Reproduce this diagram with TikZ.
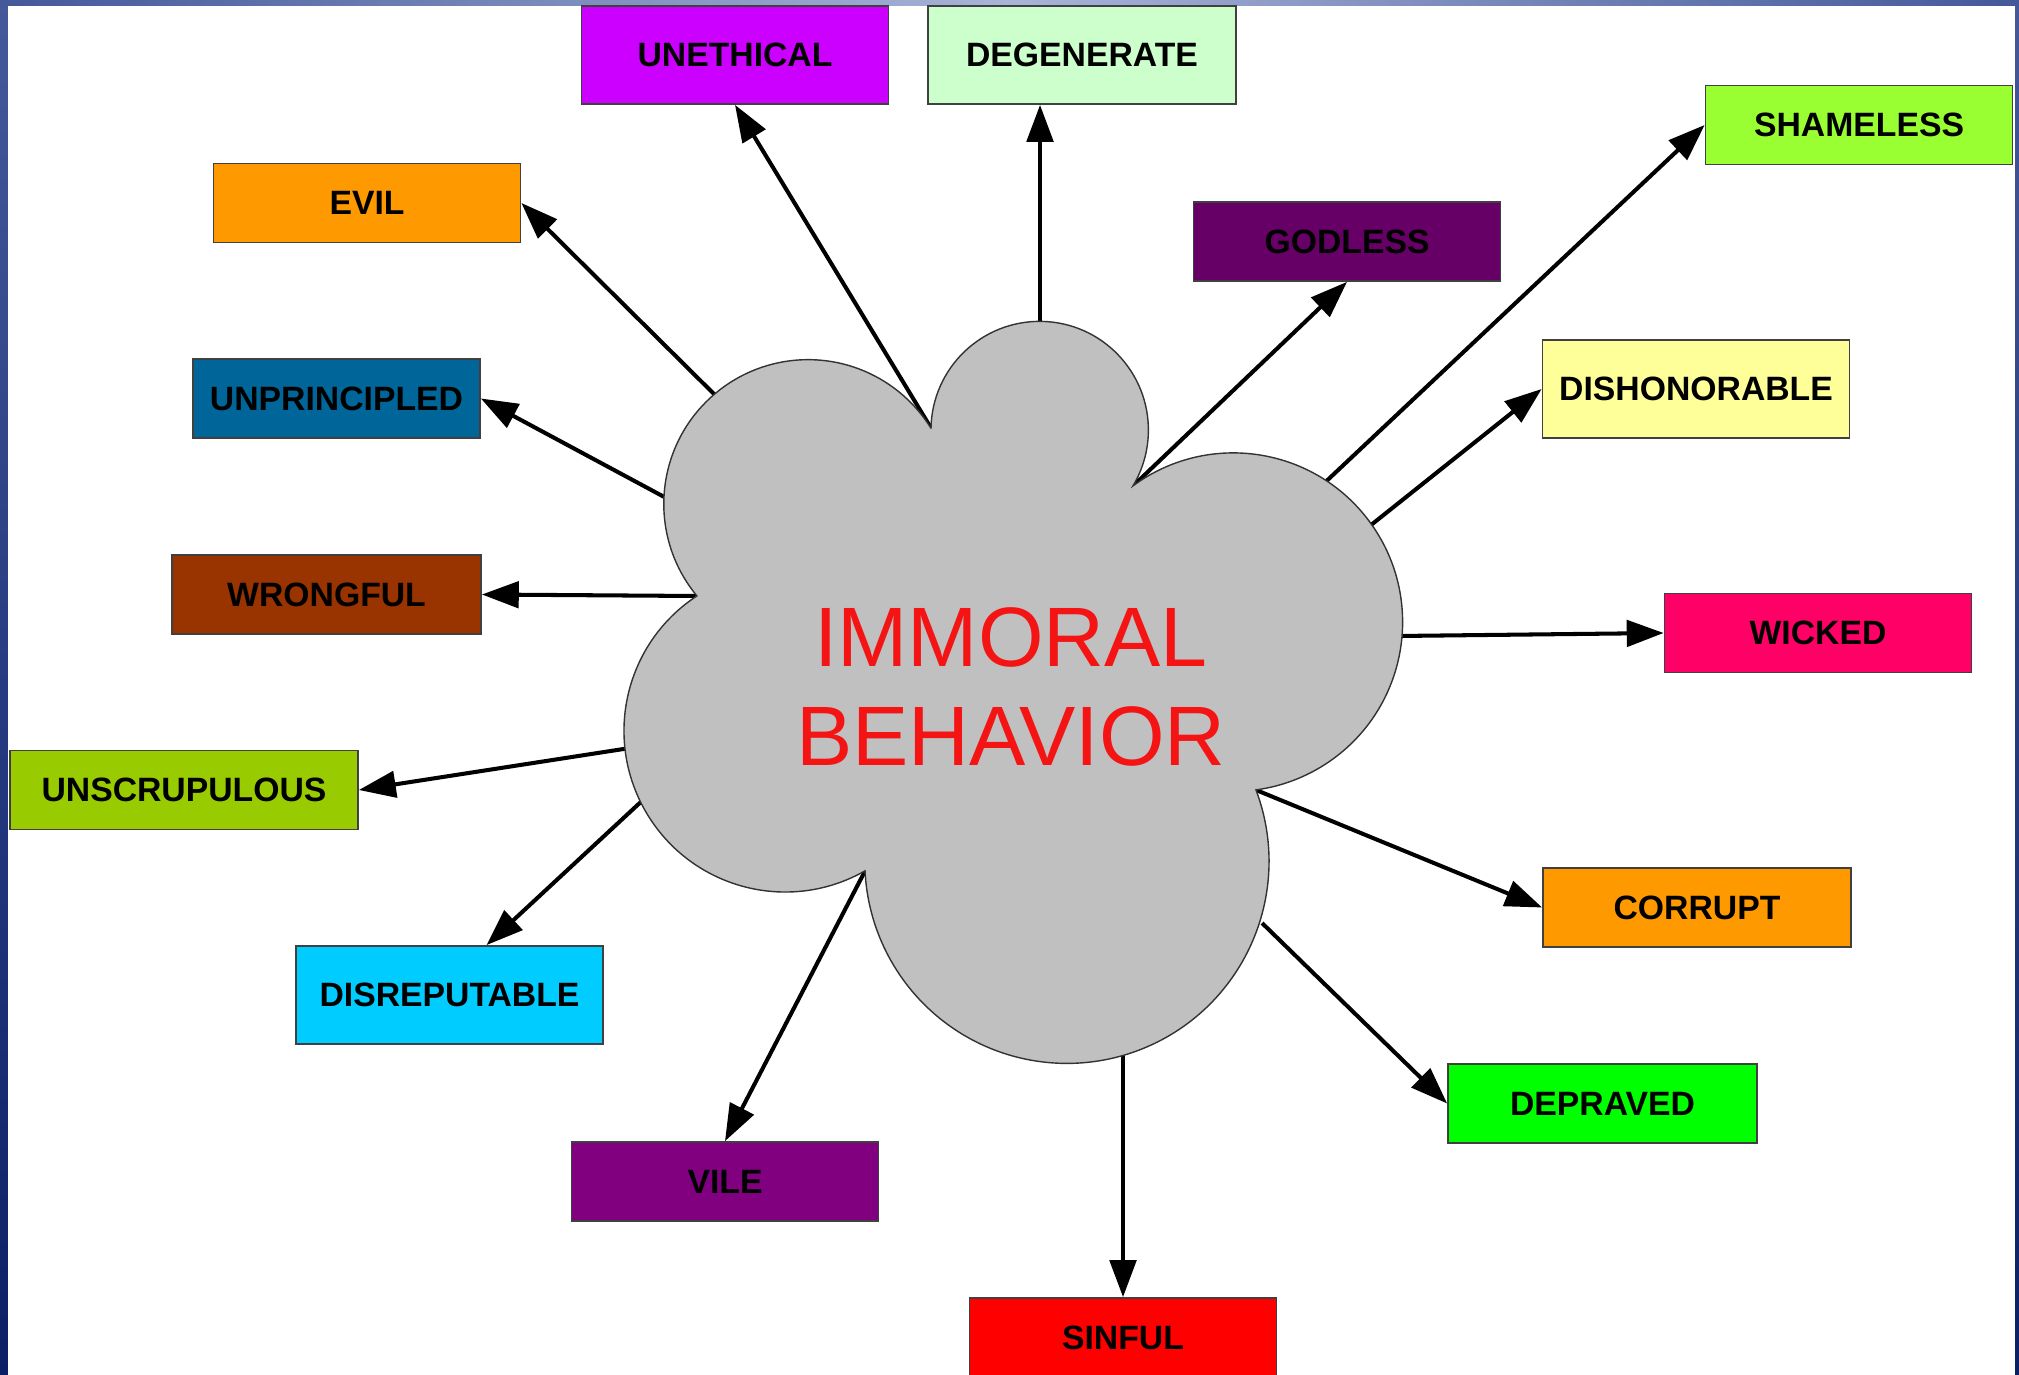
\documentclass[tikz,border=0pt]{standalone}
\usepackage{fontspec}
\setmainfont{Liberation Sans}
\usepackage{xcolor}
\usepackage{tikz}
\usetikzlibrary{arrows.meta, positioning, calc}

\definecolor{frameTop}{HTML}{44589A}
\definecolor{frameBot}{HTML}{0A1F66}
\definecolor{frameLight}{HTML}{A8B4D8}
\definecolor{cloudGray}{HTML}{C0C0C0}
\definecolor{moralRed}{HTML}{F41414}
\definecolor{cUnethical}{HTML}{CC00FF}
\definecolor{cDegenerate}{HTML}{CCFFCC}
\definecolor{cEvil}{HTML}{FF9900}
\definecolor{cGodless}{HTML}{660066}
\definecolor{cShameless}{HTML}{99FF33}
\definecolor{cUnprincipled}{HTML}{006699}
\definecolor{cDishonorable}{HTML}{FFFF99}
\definecolor{cWrongful}{HTML}{993300}
\definecolor{cWicked}{HTML}{FF0066}
\definecolor{cUnscrupulous}{HTML}{99CC00}
\definecolor{cCorrupt}{HTML}{FF9900}
\definecolor{cDisreputable}{HTML}{00CCFF}
\definecolor{cDepraved}{HTML}{00FF00}
\definecolor{cVile}{HTML}{800080}
\definecolor{cSinful}{HTML}{FF0000}

\begin{document}
\begin{tikzpicture}[
          word/.style={rectangle, draw=black!75, line width=0.5pt, inner sep=0pt,
            minimum width=3.07cm, minimum height=0.79cm, text=black,
            font=\bfseries\fontsize{9.6}{11}\selectfont},
          tall/.style={minimum height=0.98cm},
          link/.style={-{Triangle[length=10.5pt, width=7.5pt]}, line width=1.15pt, black}
        ]
          \useasboundingbox (0,0) rectangle (20.19,-13.75);
          % slide frame
          \shade[top color=frameTop, bottom color=frameBot] (0,0) rectangle (20.19,-13.75);
          \shade[left color=frameTop, right color=frameTop, middle color=frameLight] (0,0) rectangle (20.19,-0.06);
          \fill[white] (0.08,-0.06) rectangle (20.15,-13.80);

          % words
          \node[word, tall, fill=cUnethical] (unethical) at (7.35,-0.55) {UNETHICAL};
          \node[word, tall, fill=cDegenerate, minimum width=3.08cm] (degenerate) at (10.82,-0.55) {DEGENERATE};
          \node[word, fill=cEvil] (evil) at (3.67,-2.03) {EVIL};
          \node[word, fill=cGodless] (godless) at (13.47,-2.415) {GODLESS};
          \node[word, fill=cShameless] (shameless) at (18.59,-1.25) {SHAMELESS};
          \node[word, fill=cUnprincipled, minimum width=2.87cm] (unprincipled) at (3.365,-3.985) {UNPRINCIPLED};
          \node[word, tall, fill=cDishonorable] (dishonorable) at (16.96,-3.89) {DISHONORABLE};
          \node[word, fill=cWrongful, minimum width=3.09cm] (wrongful) at (3.265,-5.945) {WRONGFUL};
          \node[word, fill=cWicked] (wicked) at (18.18,-6.33) {WICKED};
          \node[word, fill=cUnscrupulous, minimum width=3.48cm] (unscrupulous) at (1.84,-7.90) {UNSCRUPULOUS};
          \node[word, fill=cCorrupt, minimum width=3.08cm] (corrupt) at (16.97,-9.075) {CORRUPT};
          \node[word, tall, fill=cDisreputable] (disreputable) at (4.495,-9.95) {DISREPUTABLE};
          \node[word, fill=cDepraved, minimum width=3.09cm] (depraved) at (16.025,-11.035) {DEPRAVED};
          \node[word, fill=cVile] (vile) at (7.25,-11.815) {VILE};
          \node[word, fill=cSinful] (sinful) at (11.23,-13.375) {SINFUL};

          % notches and rim points of the cloud
          \coordinate (n1) at (9.31,-4.28);
          \coordinate (n2) at (11.33,-4.86);
          \coordinate (n3) at (12.56,-7.90);
          \coordinate (n4) at (8.65,-8.71);
          \coordinate (n5) at (6.97,-5.96);
          \coordinate (s-evil) at (7.19,-3.99);
          \coordinate (s-degenerate) at (10.40,-3.26);
          \coordinate (s-shameless) at (13.18,-4.89);
          \coordinate (s-dishonorable) at (13.66,-5.29);
          \coordinate (s-wicked) at (13.98,-6.36);
          \coordinate (s-depraved) at (12.62,-9.23);
          \coordinate (s-sinful) at (11.23,-10.50);
          \coordinate (s-disreputable) at (6.44,-7.99);
          \coordinate (s-unscrupulous) at (6.30,-7.48);
          \coordinate (s-unprincipled) at (6.68,-4.99);

          % arrows
          \draw[link] (s-evil) -- (evil.east);
          \draw[link] (n1) -- (unethical.south);
          \draw[link] (s-degenerate) -- (s-degenerate |- degenerate.south);
          \draw[link] (n2) -- (godless.south);
          \draw[link] (s-shameless) -- (shameless.west);
          \draw[link] (s-dishonorable) -- (dishonorable.west);
          \draw[link] (s-wicked) -- (wicked.west);
          \draw[link] (n3) -- (corrupt.west);
          \draw[link] (s-depraved) -- (depraved.west);
          \draw[link] (s-sinful) -- (sinful.north);
          \draw[link] (n4) -- (vile.north);
          \draw[link] (s-disreputable) -- ([xshift=0.37cm]disreputable.north);
          \draw[link] (s-unscrupulous) -- (unscrupulous.east);
          \draw[link] (n5) -- (wrongful.east);
          \draw[link] (s-unprincipled) -- (unprincipled.east);

          % cloud
          \draw[fill=cloudGray, draw=black!80, line width=0.4pt] (n1)
            arc[start angle=178.9, end angle=-30.9, radius=1.087]
            arc[start angle=126.39, end angle=-82.33, radius=1.6925]
            arc[start angle=20.7, end angle=-177.3, radius=2.021]
            arc[start angle=-60.3, end angle=-236.8, radius=1.612]
            arc[start angle=-140.4, end angle=-328.2, radius=1.443] -- cycle;

          \node[text=moralRed, font=\fontsize{24}{28}\selectfont, align=center] (title) at (10.11,-6.87) {IMMORAL\\BEHAVIOR};
        \end{tikzpicture}
\end{document}
